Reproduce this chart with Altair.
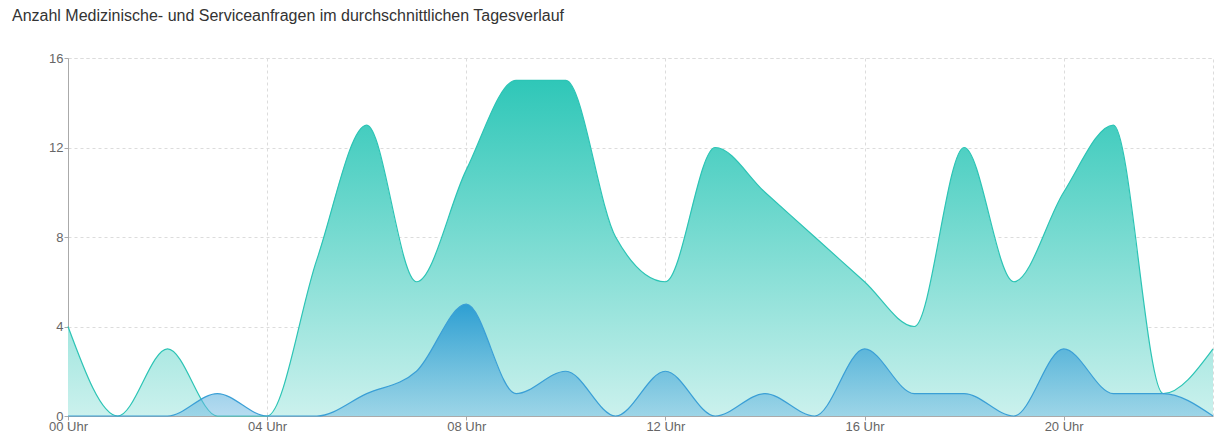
import altair as alt
import pandas as pd

hours = list(range(24))
medizin = [4, 0, 3, 0, 0, 7, 13, 6, 11, 15, 15, 8, 6, 12, 10, 8, 6, 4, 12, 6, 10, 13, 1, 3]
service = [0, 0, 0, 1, 0, 0, 1, 2, 5, 1, 2, 0, 2, 0, 1, 0, 3, 1, 1, 0, 3, 1, 1, 0]
x_ticks = [0, 4, 8, 12, 16, 20]
y_ticks = [0, 4, 8, 12, 16]

df = pd.DataFrame({"h": hours, "a": medizin, "b": service})

xenc = alt.X("h:Q", scale=alt.Scale(domain=[0, 23], nice=False, zero=False),
             axis=alt.Axis(values=x_ticks, title=None,
                           labelExpr="(datum.value < 10 ? '0' : '') + datum.value + ' Uhr'",
                           labelFlush=False, labelColor="#666", labelFontSize=13,
                           labelFont="Liberation Sans", domainColor="#aaa", tickColor="#aaa",
                           tickSize=4, gridColor="#dcdcdc", gridDash=[3, 3], labelPadding=0))

def yenc(field):
    return alt.Y(f"{field}:Q", scale=alt.Scale(domain=[0, 16], nice=False),
                 axis=alt.Axis(values=y_ticks, title=None, labelColor="#666", labelFontSize=13,
                               labelFont="Liberation Sans", domainColor="#aaa", tickColor="#aaa",
                               tickSize=4, gridColor="#dcdcdc", gridDash=[3, 3], labelPadding=1))

teal_grad = alt.Gradient(gradient="linear", x1=0, x2=0, y1=0, y2=1,
                         stops=[alt.GradientStop(color="#2fc7b8", offset=0),
                                alt.GradientStop(color="#cbf1ed", offset=1)])
blue_grad = alt.Gradient(gradient="linear", x1=0, x2=0, y1=0, y2=1,
                         stops=[alt.GradientStop(color="rgba(40,155,210,0.95)", offset=0),
                                alt.GradientStop(color="rgba(110,185,225,0.5)", offset=1)])

area_a = alt.Chart(df).mark_area(interpolate="monotone", opacity=1,
                                 line={"color": "#2cc4b5", "strokeWidth": 1.2},
                                 color=teal_grad).encode(x=xenc, y=yenc("a"))
area_b = alt.Chart(df).mark_area(interpolate="monotone", opacity=1,
                                 line={"color": "#3a9fd6", "strokeWidth": 1.2},
                                 color=blue_grad).encode(x=xenc, y=yenc("b"))

chart = alt.layer(area_a, area_b).properties(
    width=1145, height=358,
    autosize=alt.AutoSizeParams(type="none"),
    padding={"left": 60, "top": 50, "right": 2, "bottom": 20},
    title=alt.TitleParams("Anzahl Medizinische- und Serviceanfragen im durchschnittlichen Tagesverlauf",
                          anchor="start", frame="group", dx=-56, offset=28,
                          font="Liberation Sans", fontSize=16, fontWeight="normal", color="#333"),
).configure_view(stroke="#dcdcdc", strokeDash=[3, 3])

chart.save("out.html", embed_options={"renderer": "svg", "actions": False})
